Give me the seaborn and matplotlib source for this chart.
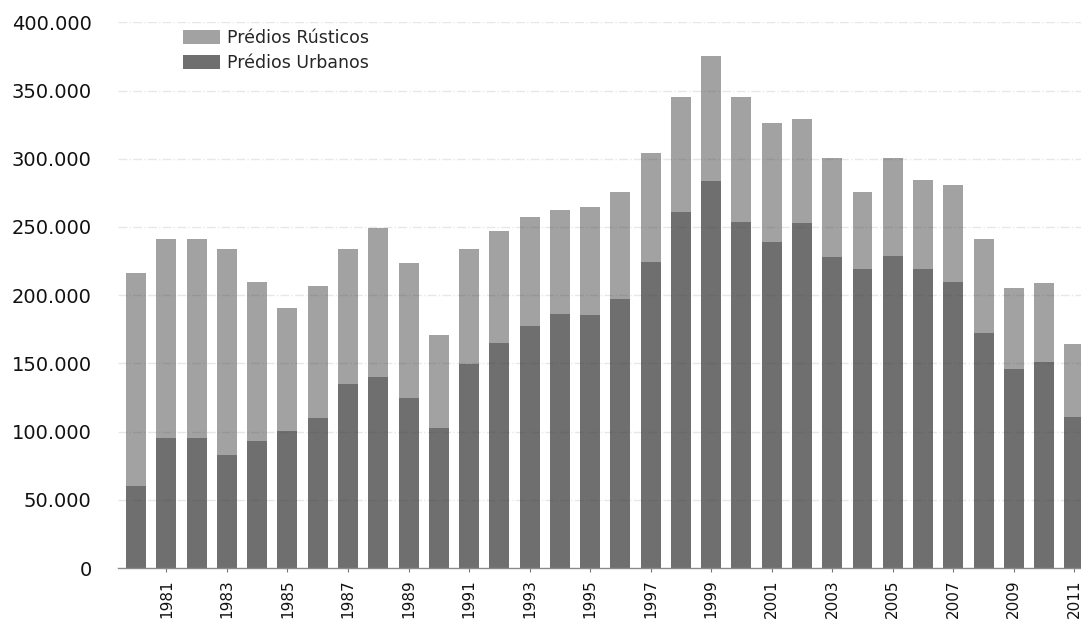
import matplotlib
matplotlib.use("Agg")
import matplotlib.pyplot as plt
from matplotlib.patches import Patch
from matplotlib.ticker import FuncFormatter
import seaborn as sns
import pandas as pd

# Prédios transaccionados por ano
anos = list(range(1980, 2012))
urbanos = [60000, 95500, 95500, 83000, 93000, 100400, 109700, 134600, 140000, 124600,
           102400, 149500, 165000, 177400, 186300, 185200, 197000, 224000, 261200, 283900,
           253400, 239000, 252600, 227700, 219000, 229000, 219000, 209900, 172500, 145600,
           151200, 110900]
rusticos = [156000, 145500, 145500, 151000, 116600, 90200, 97000, 99200, 109000, 99200,
            68400, 84300, 82000, 80100, 76000, 79800, 78600, 80400, 84300, 91400,
            92100, 87000, 76800, 73100, 56800, 71800, 65400, 70800, 68400, 59900,
            58000, 53300]

rotulo_rusticos = "Prédios Rústicos"
rotulo_urbanos = "Prédios Urbanos"
cor_rusticos = "#a2a2a2"
cor_urbanos = "#6f6f6f"

df = pd.DataFrame({"ano": anos, "urbanos": urbanos, "rusticos": rusticos})
df["total"] = df["urbanos"] + df["rusticos"]

sns.set_theme(style="white")
plt.rcParams["font.family"] = ["DejaVu Sans"]

fig = plt.figure(figsize=(10.81, 6.23), dpi=100)
ax = fig.add_axes([118 / 1081, 1 - 568 / 623, 1 - 118 / 1081, (568 - 22.4) / 623])

# Barras empilhadas: total (rústicos por cima) e urbanos na base
sns.barplot(data=df, x="ano", y="total", color=cor_rusticos, saturation=1,
            width=0.66, linewidth=0, edgecolor="none", ax=ax, zorder=2)
sns.barplot(data=df, x="ano", y="urbanos", color=cor_urbanos, saturation=1,
            width=0.66, linewidth=0, edgecolor="none", ax=ax, zorder=2)

ax.set_xlim(-0.6, 31.22)
ax.set_ylim(0, 400000)
ax.set_yticks(range(0, 400001, 50000))
ax.yaxis.set_major_formatter(FuncFormatter(lambda v, p: f"{v:,.0f}".replace(",", ".")))
ax.tick_params(axis="y", length=0, pad=19, labelsize=14, labelcolor="#111111")

pos = [i for i, a in enumerate(anos) if a % 2 == 1]
ax.set_xticks(pos)
ax.set_xticklabels([str(anos[i]) for i in pos], rotation=90, fontsize=11, color="#111111")
ax.tick_params(axis="x", length=3, width=0.8, color="#777777", pad=5, bottom=True)

ax.set_xlabel("")
ax.set_ylabel("")
for s in ["top", "right", "left"]:
    ax.spines[s].set_visible(False)
ax.spines["bottom"].set_color("#8a8a8a")
ax.spines["bottom"].set_linewidth(1.0)

# Linhas de grelha discretas sobre as barras
for v in range(50000, 400001, 50000):
    ax.axhline(v, color="#404040", alpha=0.12, lw=1.0, ls="-.", zorder=3)

handles = [Patch(facecolor=cor_rusticos, edgecolor="none", label=rotulo_rusticos),
           Patch(facecolor=cor_urbanos, edgecolor="none", label=rotulo_urbanos)]
fig.legend(handles=handles, loc="upper left", bbox_to_anchor=(183 / 1081, 1 - 29 / 623),
           frameon=False, fontsize=12.5, handlelength=2.15, handleheight=0.85,
           handletextpad=0.4, labelspacing=0.42, borderpad=0, borderaxespad=0)

fig.savefig("out.png", dpi=100)
